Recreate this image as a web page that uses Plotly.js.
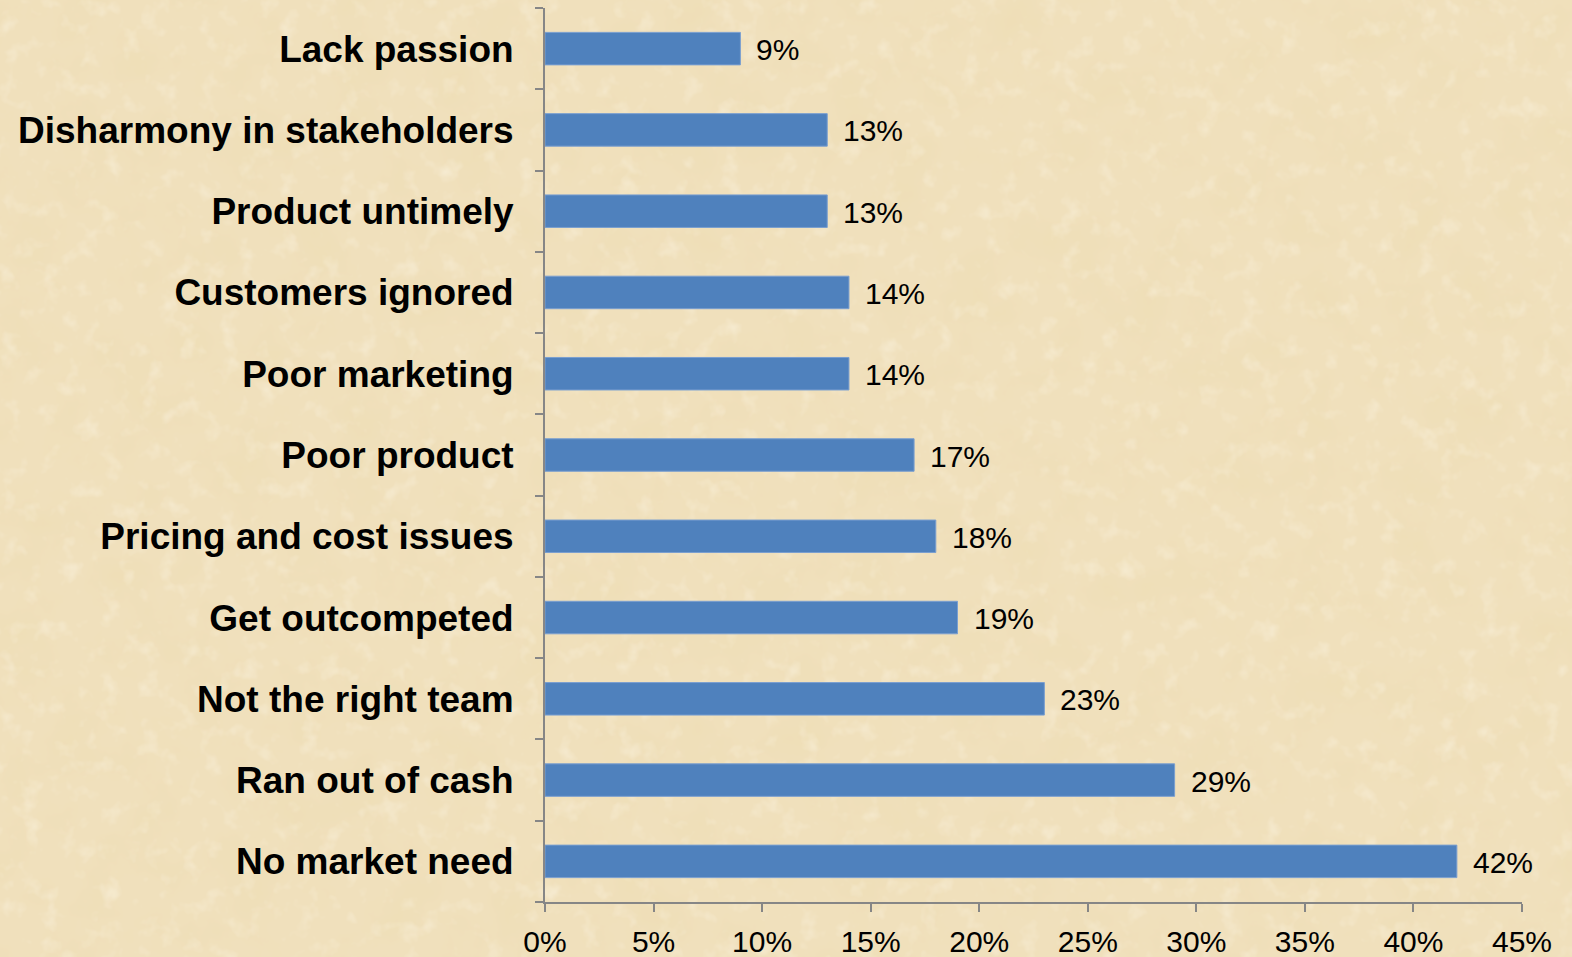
<!DOCTYPE html>
<html>
<head>
<meta charset="utf-8">
<script src="https://cdn.plot.ly/plotly-3.0.1.min.js"></script>
<style>
html,body{margin:0;padding:0;}
body{
  width:1572px;height:957px;overflow:hidden;
  background-color:#f0e0bc;
  background-image:url("data:image/svg+xml;utf8,<svg xmlns='http://www.w3.org/2000/svg' width='1572' height='957'><filter id='n'><feTurbulence type='fractalNoise' baseFrequency='0.018' numOctaves='5' seed='11'/><feColorMatrix type='matrix' values='0 0 0 0 0.85  0 0 0 0 0.72  0 0 0 0 0.45  0 0 0 1.2 -0.52'/></filter><filter id='m'><feTurbulence type='fractalNoise' baseFrequency='0.05' numOctaves='3' seed='3'/><feColorMatrix type='matrix' values='0 0 0 0 1  0 0 0 0 0.97  0 0 0 0 0.88  0 0 0 0.9 -0.5'/></filter><rect width='100%' height='100%' filter='url(%23n)'/><rect width='100%' height='100%' filter='url(%23m)'/></svg>");
}
#chart{width:1572px;height:957px;}
</style>
</head>
<body>
<div id="chart"></div>
<script>
const categories = ["No market need","Ran out of cash","Not the right team","Get outcompeted","Pricing and cost issues","Poor product","Poor marketing","Customers ignored","Product untimely","Disharmony in stakeholders","Lack passion"];
const values = [0.42,0.29,0.23,0.19,0.18,0.17,0.14,0.14,0.13,0.13,0.09];
const xTickVals = [0,0.05,0.10,0.15,0.20,0.25,0.30,0.35,0.40,0.45];
const xTickText = ["0%","5%","10%","15%","20%","25%","30%","35%","40%","45%"];

const font = "Liberation Sans, Arial, Helvetica, sans-serif";

const trace = {
  type:"bar",
  orientation:"h",
  y:categories,
  x:values,
  marker:{color:"#4f81bd", line:{color:"#7a9fd0", width:1}},
  width:0.4,
  hoverinfo:"none"
};

const annotations = categories.map((c,i)=>({
  x:values[i], y:c, xref:"x", yref:"y",
  text:Math.round(values[i]*100)+"%",
  showarrow:false, xanchor:"left", yanchor:"middle", xshift:14, yshift:-1,
  font:{family:font, size:30, color:"#000"}
}));

const layout = {
  width:1572, height:957,
  paper_bgcolor:"rgba(0,0,0,0)",
  plot_bgcolor:"rgba(0,0,0,0)",
  margin:{l:545, r:50, t:8, b:55, pad:0},
  showlegend:false,
  xaxis:{
    range:[0,0.45],
    tickvals:xTickVals, ticktext:xTickText,
    showgrid:false, zeroline:false,
    showline:true, linecolor:"#868686", linewidth:2,
    ticks:"outside", ticklen:8, tickwidth:2, tickcolor:"#868686",
    ticklabelstandoff:4,
    tickfont:{family:font, size:30, color:"#000"},
    fixedrange:true
  },
  yaxis:{
    type:"category",
    categoryorder:"array", categoryarray:categories,
    showgrid:false, zeroline:false,
    showline:true, linecolor:"#868686", linewidth:2,
    ticks:"outside", ticklen:8, tickwidth:2, tickcolor:"#868686",
    tickson:"boundaries",
    ticklabelstandoff:22,
    tickfont:{family:font, size:37, color:"#000", weight:"bold"},
    fixedrange:true
  },
  annotations:annotations
};

Plotly.newPlot("chart",[trace],layout,{displayModeBar:false, staticPlot:true});
</script>
</body>
</html>
